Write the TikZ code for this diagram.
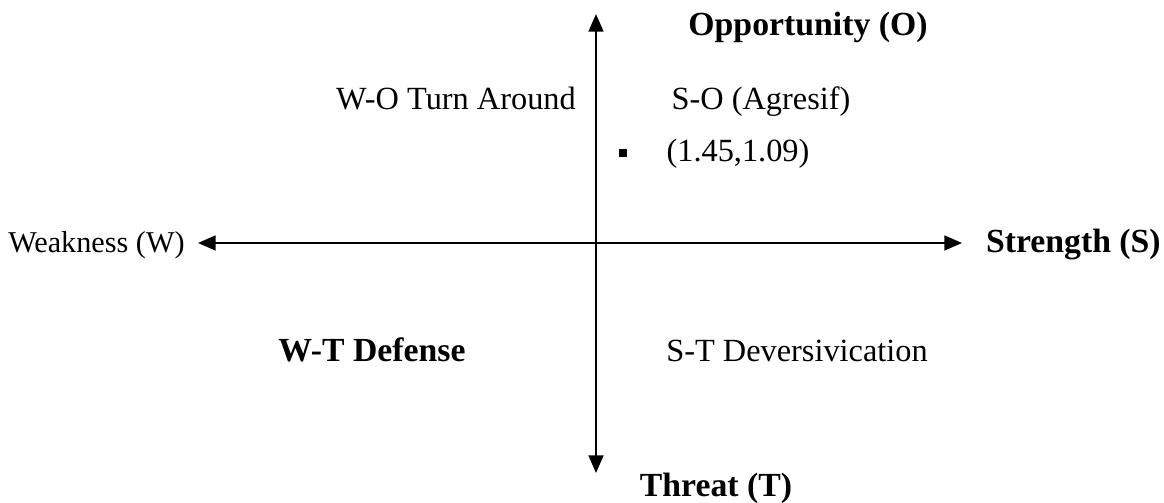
\documentclass[tikz,border=0pt]{standalone}
\usepackage{fontspec}
\setmainfont{Liberation Serif}
\usetikzlibrary{arrows.meta,positioning}

\begin{document}
\begin{tikzpicture}[
  x=0.025cm, y=-0.025cm,
  lbl/.style={inner sep=0pt, anchor=base, font=\fontsize{23}{27}\selectfont},
  blbl/.style={lbl, font=\fontsize{24}{28}\selectfont\bfseries},
  axis/.style={{Triangle[length=4.4mm,width=3.7mm]}-{Triangle[length=4.4mm,width=3.7mm]}, line width=1.4pt}]
  \useasboundingbox (0,0) rectangle (1164,502);
  % axis ends
  \coordinate (west) at (198,243);
  \coordinate (east) at (962,243);
  \coordinate (north) at (596,14);
  \coordinate (south) at (596,473);
  \draw[axis] (west) -- (east);
  \draw[axis] (north) -- (south);
  % axis labels
  \node[lbl, anchor=base west, font=\fontsize{21.5}{26}\selectfont] (weak) at (8,252) {Weakness (W)};
  \node[blbl, anchor=base east] (str) at (1161,252) {Strength (S)};
  \node[blbl] (opp) at (808,35) {Opportunity (O)};
  \node[blbl] (thr) at (716,496) {Threat (T)};
  % quadrants
  \node[lbl] (wo) at (456,109) {W-O Turn Around};
  \node[lbl] (so) at (761,109) {S-O (Agresif)};
  \node[lbl] (pt) at (738,161) {(1.45,1.09)};
  \node[fill, minimum size=5pt, inner sep=0pt] (dot) at (623,153) {};
  \node[blbl] (wt) at (372,361) {W-T Defense};
  \node[lbl] (st) at (797,361) {S-T Deversivication};
\end{tikzpicture}
\end{document}
